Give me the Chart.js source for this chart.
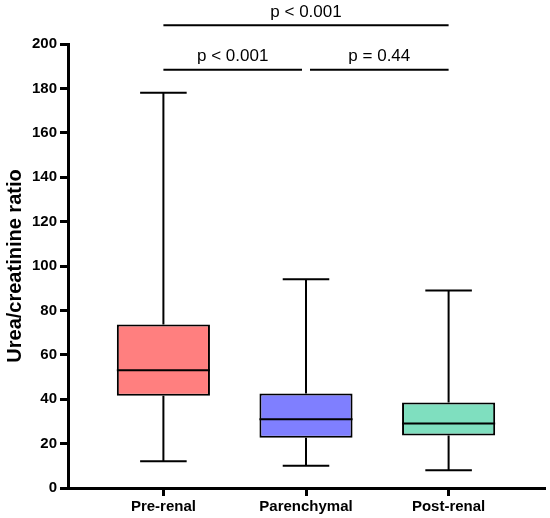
<!DOCTYPE html>
<html>
<head>
<meta charset="utf-8">
<script src="https://cdn.jsdelivr.net/npm/chart.js@4"></script>
<style>
    body { margin: 0; background: #fff; }
    #wrap { width: 550px; height: 518px; position: relative; }
</style>
</head>
<body>
<div id="wrap"><canvas id="boxChart"></canvas></div>
<script>
// box plot values
const categories = ['Pre-renal', 'Parenchymal', 'Post-renal'];
const whiskerMin = [12, 10, 8];
const q1Values = [41.5, 22.6, 23.6];
const medianValues = [53, 31, 29];
const q3Values = [73.6, 42.6, 38.5];
const whiskerMax = [178, 94, 89];
const boxColors = ['#FF7F7F', '#7F7FFF', '#7FDFBF'];
const yTicks = [0, 20, 40, 60, 80, 100, 120, 140, 160, 180, 200];

// significance brackets: from category, to category, label, level on the y scale
const brackets = [
    { from: 0, to: 2, label: 'p < 0.001', level: 208.4 },
    { from: 0, to: 1, label: 'p < 0.001', level: 188.4 },
    { from: 1, to: 2, label: 'p = 0.44', level: 188.4 }
];

const FONT = '"Liberation Sans", Arial, sans-serif';

const boxPlugin = {
    id: 'boxExtras',
    afterDatasetsDraw(chart) {
        const ctx = chart.ctx;
        const xs = chart.scales.x;
        const ys = chart.scales.y;
        const bars = chart.getDatasetMeta(0).data;
        ctx.save();
        ctx.strokeStyle = '#000';
        ctx.lineWidth = 2;
        categories.forEach((c, i) => {
            const x = xs.getPixelForValue(i);
            const half = bars[i].width / 2;
            const capHalf = half / 2;
            ctx.beginPath();
            // upper whisker
            ctx.moveTo(x, ys.getPixelForValue(q3Values[i]));
            ctx.lineTo(x, ys.getPixelForValue(whiskerMax[i]));
            ctx.moveTo(x - capHalf, ys.getPixelForValue(whiskerMax[i]));
            ctx.lineTo(x + capHalf, ys.getPixelForValue(whiskerMax[i]));
            // lower whisker
            ctx.moveTo(x, ys.getPixelForValue(q1Values[i]));
            ctx.lineTo(x, ys.getPixelForValue(whiskerMin[i]));
            ctx.moveTo(x - capHalf, ys.getPixelForValue(whiskerMin[i]));
            ctx.lineTo(x + capHalf, ys.getPixelForValue(whiskerMin[i]));
            // median
            ctx.moveTo(x - half, ys.getPixelForValue(medianValues[i]));
            ctx.lineTo(x + half, ys.getPixelForValue(medianValues[i]));
            ctx.stroke();
        });

        // brackets
        ctx.font = '17px ' + FONT;
        ctx.fillStyle = '#000';
        ctx.textAlign = 'center';
        ctx.textBaseline = 'bottom';
        brackets.forEach(b => {
            let x1 = xs.getPixelForValue(b.from);
            let x2 = xs.getPixelForValue(b.to);
            if (b.to - b.from === 1) {
                if (b.from === 1) x1 += 4; else x2 -= 4;
            }
            const y = ys.getPixelForValue(b.level);
            ctx.beginPath();
            ctx.moveTo(x1, y);
            ctx.lineTo(x2, y);
            ctx.stroke();
            ctx.fillText(b.label, (x1 + x2) / 2, y - 5);
        });
        ctx.restore();
    }
};

const ctx = document.getElementById('boxChart').getContext('2d');
new Chart(ctx, {
    type: 'bar',
    data: {
        datasets: [{
            data: categories.map((c, i) => ({ x: i, y: [q1Values[i], q3Values[i]] })),
            backgroundColor: boxColors,
            borderColor: '#000',
            borderWidth: 2,
            borderSkipped: false,
            barPercentage: 0.653,
            categoryPercentage: 1
        }]
    },
    options: {
        responsive: true,
        maintainAspectRatio: false,
        animation: false,
        layout: { padding: { top: 44, right: 5, left: 2, bottom: 0 } },
        plugins: {
            legend: { display: false },
            tooltip: { enabled: false }
        },
        scales: {
            x: {
                type: 'linear',
                min: -0.669,
                max: 2.676,
                offset: false,
                afterBuildTicks: scale => {
                    scale.ticks = categories.map((c, i) => ({ value: i }));
                },
                afterFit: scale => { scale.height = 30; },
                grid: {
                    offset: false,
                    drawOnChartArea: false,
                    drawTicks: true,
                    tickLength: 8,
                    tickWidth: 3,
                    tickColor: '#000'
                },
                border: { display: true, color: '#000', width: 3 },
                ticks: {
                    padding: 2,
                    color: '#000',
                    font: { family: FONT, size: 15, weight: 'bold' },
                    callback: v => categories[v]
                }
            },
            y: {
                min: 0,
                max: 200,
                afterBuildTicks: scale => {
                    scale.ticks = yTicks.map(v => ({ value: v }));
                },
                afterFit: scale => { scale.width = 66; },
                grid: {
                    drawOnChartArea: false,
                    drawTicks: true,
                    tickLength: 8,
                    tickWidth: 3,
                    tickColor: '#000'
                },
                border: { display: true, color: '#000', width: 3 },
                ticks: {
                    padding: 3,
                    color: '#000',
                    font: { family: FONT, size: 15, weight: 'bold' }
                },
                title: {
                    display: true,
                    text: 'Urea/creatinine ratio',
                    color: '#000',
                    padding: { top: 1, bottom: 0 },
                    font: { family: FONT, size: 20, weight: 'bold' }
                }
            }
        }
    },
    plugins: [boxPlugin]
});
</script>
</body>
</html>
